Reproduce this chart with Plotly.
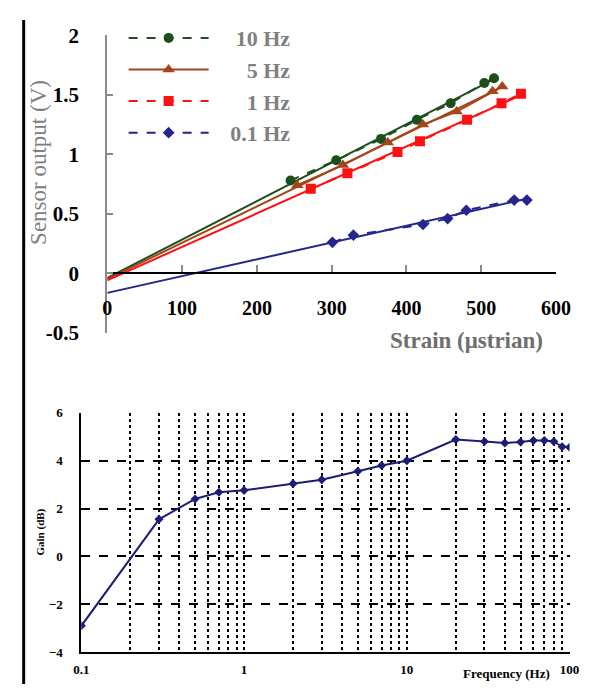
import numpy as np
import plotly.graph_objects as go

# ---------------- Top chart data (strain vs sensor output) ----------------
series_names = ["10 Hz", "5 Hz", "1 Hz", "0.1 Hz"]

strain_10hz = [245, 306, 366, 414, 459, 504, 517]
volt_10hz = [0.78, 0.95, 1.13, 1.29, 1.43, 1.60, 1.64]

strain_5hz = [254, 315, 375, 422, 467, 515, 528]
volt_5hz = [0.74, 0.91, 1.10, 1.25, 1.36, 1.53, 1.57]

strain_1hz = [272, 321, 388, 418, 481, 527, 553]
volt_1hz = [0.71, 0.84, 1.02, 1.11, 1.29, 1.43, 1.51]

strain_01hz = [301, 329, 422, 455, 480, 544, 561]
volt_01hz = [0.26, 0.32, 0.41, 0.46, 0.53, 0.615, 0.615]

# trend line intercepts (value at zero strain)
trend_intercepts = [-0.04, -0.05, -0.06, -0.165]

x_ticks_top = [0, 100, 200, 300, 400, 500, 600]
y_ticks_top = [-0.5, 0, 0.5, 1, 1.5, 2]
y_ticklabels_top = ["-0.5", "0", "0.5", "1", "1.5", "2"]

# ---------------- Bottom chart data (frequency response) ----------------
freq_hz = [0.1, 0.3, 0.5, 0.7, 1, 2, 3, 5, 7, 10, 20, 30, 40, 50, 60, 70, 80, 90, 100]
gain_db = [-2.9, 1.55, 2.4, 2.68, 2.76, 3.04, 3.2, 3.56, 3.8, 4.0, 4.88, 4.8, 4.74,
           4.78, 4.84, 4.84, 4.8, 4.58, 4.56]

x_ticks_bottom = [0.1, 1, 10, 100]
x_ticklabels_bottom = ["0.1", "1", "10", "100"]
x_minor_bottom = [0.2, 0.3, 0.4, 0.5, 0.6, 0.7, 0.8, 0.9,
                  2, 3, 4, 5, 6, 7, 8, 9,
                  20, 30, 40, 50, 60, 70, 80, 90]
y_ticks_bottom = [-4, -2, 0, 2, 4, 6]

# ---------------- styling ----------------
W, H = 590, 688
SERIF = "Liberation Serif, Times New Roman, serif"

colors = ["#1c4f1c", "#a5451a", "#ff1010", "#25258f"]
symbols = ["circle", "triangle-up", "square", "diamond"]
msizes = [10, 11, 10, 9]
dashes = ["dash", "solid", "dash", "dash"]
legend_pad = [4, 6, 6, 3]   # non-breaking spaces to right-align legend text

fig = go.Figure()

all_x = [strain_10hz, strain_5hz, strain_1hz, strain_01hz]
all_y = [volt_10hz, volt_5hz, volt_1hz, volt_01hz]

for i, name in enumerate(series_names):
    xs = np.array(all_x[i], dtype=float)
    ys = np.array(all_y[i], dtype=float)
    b = trend_intercepts[i]
    slope = float(np.sum(xs * (ys - b)) / np.sum(xs * xs))
    xt = np.array([0.0, xs.max()])
    yt = b + slope * xt
    fig.add_trace(go.Scatter(
        x=xt, y=yt, mode="lines", line=dict(color=colors[i], width=2),
        showlegend=False, hoverinfo="skip", xaxis="x", yaxis="y"))
    fig.add_trace(go.Scatter(
        x=xs, y=ys, mode="lines+markers",
        name="\u00a0" * legend_pad[i] + name,
        legendgroup=name,
        line=dict(color=colors[i], width=2, dash=dashes[i]),
        marker=dict(symbol=symbols[i], size=msizes[i], color=colors[i]),
        xaxis="x", yaxis="y"))

fig.add_trace(go.Scatter(
    x=freq_hz, y=gain_db, mode="lines+markers",
    line=dict(color="#1d1d78", width=2),
    marker=dict(symbol="diamond", size=7, color="#1d1d78"),
    showlegend=False, xaxis="x2", yaxis="y2"))


def px_x(p):
    return p / W


def px_y(p):
    return 1 - p / H


# top plot geometry (pixels)
top_left, top_right = 95, 562
top_ytop, top_ybot = 16, 324   # y=2 and y=-0.5
zero_pix = top_ybot - (top_ybot - top_ytop) * (0.5 / 2.5)

# bottom plot geometry
bot_left, bot_right = 68, 576
bot_top, bot_bot = 407, 655

fig.update_layout(
    width=W, height=H,
    margin=dict(l=0, r=0, t=0, b=0),
    paper_bgcolor="white", plot_bgcolor="white",
    font=dict(family=SERIF, color="black"),
    showlegend=True,
    legend=dict(
        x=px_x(112), y=1 + 3 / H, xanchor="left", yanchor="top",
        bgcolor="rgba(0,0,0,0)",
        font=dict(family=SERIF, size=22, color="#808080", weight="bold"),
        itemwidth=80, tracegroupgap=0, traceorder="normal",
    ),
    xaxis=dict(
        domain=[px_x(top_left), px_x(top_right)],
        range=[0, 600], tickvals=x_ticks_top,
        anchor="free", position=px_y(zero_pix),
        showline=True, linecolor="black", linewidth=2,
        ticks="inside", ticklen=7, tickwidth=2, tickcolor="#8a8a8a",
        ticklabelstandoff=17,
        tickfont=dict(family=SERIF, size=20, color="black", weight="bold"),
        showgrid=False, zeroline=False,
    ),
    yaxis=dict(
        domain=[px_y(top_ybot), px_y(top_ytop)],
        range=[-0.5, 2], tickvals=y_ticks_top, ticktext=y_ticklabels_top,
        anchor="x",
        showline=True, linecolor="#8a8a8a", linewidth=2,
        ticks="inside", ticklen=6, tickwidth=2, tickcolor="#8a8a8a",
        ticklabelstandoff=22,
        tickfont=dict(family=SERIF, size=21, color="black", weight="bold"),
        showgrid=False, zeroline=False,
    ),
    xaxis2=dict(
        domain=[px_x(bot_left), px_x(bot_right)],
        type="log", range=[-1, 2],
        tickvals=x_ticks_bottom, ticktext=x_ticklabels_bottom,
        anchor="y2",
        showline=True, linecolor="black", linewidth=2,
        ticks="", ticklabelstandoff=4,
        tickfont=dict(family=SERIF, size=13, color="black", weight="bold"),
        showgrid=True, gridcolor="black", gridwidth=1.6, griddash="dot",
        minor=dict(tickvals=x_minor_bottom, showgrid=True, gridcolor="black",
                   gridwidth=1.6, griddash="dot", ticks=""),
        zeroline=False,
    ),
    yaxis2=dict(
        domain=[px_y(bot_bot), px_y(bot_top)],
        range=[-4, 6], tickvals=y_ticks_bottom,
        anchor="x2",
        showline=True, linecolor="black", linewidth=2,
        ticks="", ticklabelstandoff=14,
        tickfont=dict(family=SERIF, size=13, color="black", weight="bold"),
        showgrid=True, gridcolor="black", gridwidth=2, griddash="dash",
        zeroline=False,
    ),
    annotations=[
        dict(text="Sensor output (V)", x=px_x(24), y=px_y(148),
             xref="paper", yref="paper", showarrow=False, textangle=-90,
             xanchor="center", yanchor="middle",
             font=dict(family=SERIF, size=23, color="#808080")),
        dict(text="Strain (μstrian)", x=px_x(469), y=px_y(332),
             xref="paper", yref="paper", showarrow=False,
             xanchor="center", yanchor="middle",
             font=dict(family=SERIF, size=23, color="#6e6e6e", weight="bold")),
        dict(text="Gain (dB)", x=px_x(26), y=px_y(530),
             xref="paper", yref="paper", showarrow=False, textangle=-90,
             xanchor="center", yanchor="middle",
             font=dict(family=SERIF, size=11, color="black", weight="bold")),
        dict(text="Frequency (Hz)", x=px_x(510), y=px_y(677),
             xref="paper", yref="paper", showarrow=False,
             xanchor="center", yanchor="middle",
             font=dict(family=SERIF, size=13, color="black", weight="bold")),
    ],
    shapes=[
        dict(type="line", xref="paper", yref="paper",
             x0=px_x(8), x1=px_x(8), y0=0, y1=1,
             line=dict(color="black", width=3)),
    ],
)

fig.write_html("out.html")
